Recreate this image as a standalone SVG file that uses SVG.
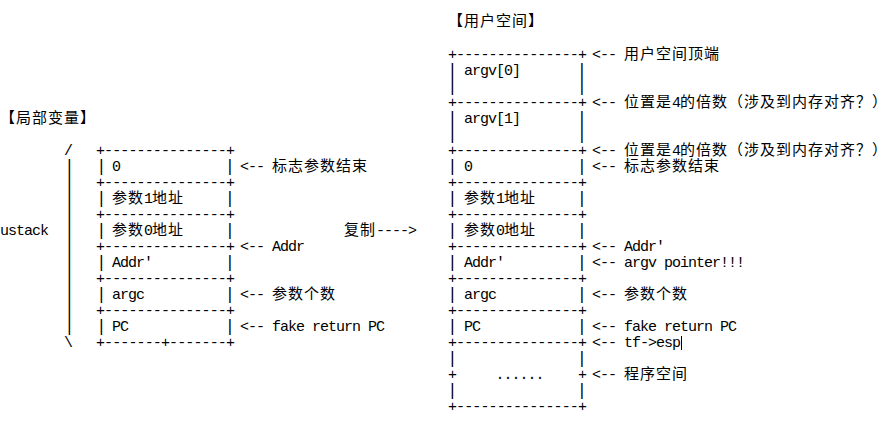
<svg xmlns="http://www.w3.org/2000/svg" width="886" height="425" viewBox="0 0 886 425">
<style>
text { fill: #000; }
.m { font-family: "Liberation Mono", "DejaVu Sans Mono", monospace; font-size: 15px; letter-spacing: -1px; }
.c { font-family: "Noto Sans CJK SC", "Noto Sans CJK JP", sans-serif; font-size: 15px; letter-spacing: 1px; }
.b { font-family: "DejaVu Sans Mono", monospace; font-size: 16.2px; }
</style>
<rect width="886" height="425" fill="#fff"/>

<g id="left-stack">
  <text class="c" x="0" y="123">【局部变量】</text>
  <text class="m" x="0" y="235">ustack</text>
  <text class="m" x="64" y="155">/</text>
  <text class="m" x="64" y="347">\</text>
  <g id="left-bar">
    <text class="b" x="64.6" y="171">|</text>
    <text class="b" x="64.6" y="187">|</text>
    <text class="b" x="64.6" y="203">|</text>
    <text class="b" x="64.6" y="219">|</text>
    <text class="b" x="64.6" y="235">|</text>
    <text class="b" x="64.6" y="251">|</text>
    <text class="b" x="64.6" y="267">|</text>
    <text class="b" x="64.6" y="283">|</text>
    <text class="b" x="64.6" y="299">|</text>
    <text class="b" x="64.6" y="315">|</text>
    <text class="b" x="64.6" y="331">|</text>
  </g>
  <g id="left-borders">
    <text class="m" x="95.9" y="155" textLength="138" lengthAdjust="spacing">+---------------+</text>
    <text class="m" x="95.9" y="187" textLength="138" lengthAdjust="spacing">+---------------+</text>
    <text class="m" x="95.9" y="219" textLength="138" lengthAdjust="spacing">+---------------+</text>
    <text class="m" x="95.9" y="251" textLength="138" lengthAdjust="spacing">+---------------+</text>
    <text class="m" x="95.9" y="283" textLength="138" lengthAdjust="spacing">+---------------+</text>
    <text class="m" x="95.9" y="315" textLength="138" lengthAdjust="spacing">+---------------+</text>
    <text class="m" x="95.9" y="347" textLength="138" lengthAdjust="spacing">+-------+-------+</text>
  </g>
  <g id="left-sides">
    <text class="b" x="96.6" y="171">|</text><text class="b" x="225.1" y="171">|</text>
    <text class="b" x="96.6" y="203">|</text><text class="b" x="225.1" y="203">|</text>
    <text class="b" x="96.6" y="235">|</text><text class="b" x="225.1" y="235">|</text>
    <text class="b" x="96.6" y="267">|</text><text class="b" x="225.1" y="267">|</text>
    <text class="b" x="96.6" y="299">|</text><text class="b" x="225.1" y="299">|</text>
    <text class="b" x="96.6" y="331">|</text><text class="b" x="225.1" y="331">|</text>
  </g>
  <g id="left-cells">
    <text class="m" x="112" y="171">0</text>
    <text y="203"><tspan class="c" x="112">参数</tspan><tspan class="m" x="144">1</tspan><tspan class="c" x="152">地址</tspan></text>
    <text y="235"><tspan class="c" x="112">参数</tspan><tspan class="m" x="144">0</tspan><tspan class="c" x="152">地址</tspan></text>
    <text class="m" x="112" y="267">Addr'</text>
    <text class="m" x="112" y="299">argc</text>
    <text class="m" x="112" y="331">PC</text>
  </g>
  <g id="left-notes">
    <text y="171"><tspan class="m" x="240">&lt;--</tspan><tspan class="c" x="272">标志参数结束</tspan></text>
    <text class="m" x="240" y="251">&lt;-- Addr</text>
    <text y="299"><tspan class="m" x="240">&lt;--</tspan><tspan class="c" x="272">参数个数</tspan></text>
    <text class="m" x="240" y="331">&lt;-- fake return PC</text>
  </g>
</g>

<g id="connectors">
  <text y="235"><tspan class="c" x="344">复制</tspan><tspan class="m" x="376">----&gt;</tspan></text>
</g>

<g id="right-stack">
  <text class="c" x="448" y="26">【用户空间】</text>
  <g id="right-borders">
    <text class="m" x="447.9" y="59" textLength="138" lengthAdjust="spacing">+---------------+</text>
    <text class="m" x="447.9" y="107" textLength="138" lengthAdjust="spacing">+---------------+</text>
    <text class="m" x="447.9" y="155" textLength="138" lengthAdjust="spacing">+---------------+</text>
    <text class="m" x="447.9" y="187" textLength="138" lengthAdjust="spacing">+---------------+</text>
    <text class="m" x="447.9" y="219" textLength="138" lengthAdjust="spacing">+---------------+</text>
    <text class="m" x="447.9" y="251" textLength="138" lengthAdjust="spacing">+---------------+</text>
    <text class="m" x="447.9" y="283" textLength="138" lengthAdjust="spacing">+---------------+</text>
    <text class="m" x="447.9" y="315" textLength="138" lengthAdjust="spacing">+---------------+</text>
    <text class="m" x="447.9" y="347" textLength="138" lengthAdjust="spacing">+---------------+</text>
    <text class="m" x="447.9" y="379">+</text>
    <text class="m" x="577.9" y="379">+</text>
    <text class="m" x="447.9" y="411" textLength="138" lengthAdjust="spacing">+---------------+</text>
  </g>
  <g id="right-sides">
    <text class="b" x="447.6" y="75">|</text><text class="b" x="576.9" y="75">|</text>
    <text class="b" x="447.6" y="91">|</text><text class="b" x="576.9" y="91">|</text>
    <text class="b" x="447.6" y="123">|</text><text class="b" x="576.9" y="123">|</text>
    <text class="b" x="447.6" y="139">|</text><text class="b" x="576.9" y="139">|</text>
    <text class="b" x="447.6" y="171">|</text><text class="b" x="576.9" y="171">|</text>
    <text class="b" x="447.6" y="203">|</text><text class="b" x="576.9" y="203">|</text>
    <text class="b" x="447.6" y="235">|</text><text class="b" x="576.9" y="235">|</text>
    <text class="b" x="447.6" y="267">|</text><text class="b" x="576.9" y="267">|</text>
    <text class="b" x="447.6" y="299">|</text><text class="b" x="576.9" y="299">|</text>
    <text class="b" x="447.6" y="331">|</text><text class="b" x="576.9" y="331">|</text>
    <text class="b" x="447.6" y="363">|</text><text class="b" x="576.9" y="363">|</text>
    <text class="b" x="447.6" y="395">|</text><text class="b" x="576.9" y="395">|</text>
  </g>
  <g id="right-cells">
    <text class="m" x="464" y="75">argv[0]</text>
    <text class="m" x="464" y="123">argv[1]</text>
    <text class="m" x="464" y="171">0</text>
    <text y="203"><tspan class="c" x="464">参数</tspan><tspan class="m" x="496">1</tspan><tspan class="c" x="504">地址</tspan></text>
    <text y="235"><tspan class="c" x="464">参数</tspan><tspan class="m" x="496">0</tspan><tspan class="c" x="504">地址</tspan></text>
    <text class="m" x="464" y="267">Addr'</text>
    <text class="m" x="464" y="299">argc</text>
    <text class="m" x="464" y="331">PC</text>
    <text class="m" x="495.5" y="379">......</text>
  </g>
  <g id="right-notes">
    <text y="59"><tspan class="m" x="592">&lt;--</tspan><tspan class="c" x="624">用户空间顶端</tspan></text>
    <text y="107"><tspan class="m" x="592">&lt;--</tspan><tspan class="c" x="624">位置是</tspan><tspan class="m" x="672">4</tspan><tspan class="c" x="680">的倍数</tspan><tspan class="c" x="728">（涉及到内存对齐？）</tspan></text>
    <text y="155"><tspan class="m" x="592">&lt;--</tspan><tspan class="c" x="624">位置是</tspan><tspan class="m" x="672">4</tspan><tspan class="c" x="680">的倍数</tspan><tspan class="c" x="728">（涉及到内存对齐？）</tspan></text>
    <text y="171"><tspan class="m" x="592">&lt;--</tspan><tspan class="c" x="624">标志参数结束</tspan></text>
    <text class="m" x="592" y="251">&lt;-- Addr'</text>
    <text class="m" x="592" y="267">&lt;-- argv pointer!!!</text>
    <text y="299"><tspan class="m" x="592">&lt;--</tspan><tspan class="c" x="624">参数个数</tspan></text>
    <text class="m" x="592" y="331">&lt;-- fake return PC</text>
    <text class="m" x="592" y="347">&lt;-- tf-&gt;esp</text>
    <line x1="681.5" y1="336" x2="681.5" y2="350" stroke="#000" stroke-width="1"/>
    <text y="379"><tspan class="m" x="592">&lt;--</tspan><tspan class="c" x="624">程序空间</tspan></text>
  </g>
</g>
</svg>
